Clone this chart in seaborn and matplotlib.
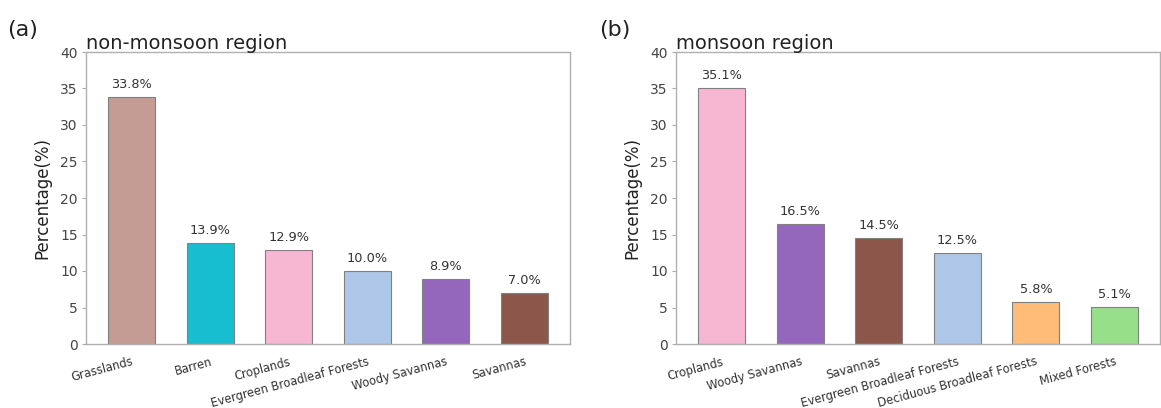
import matplotlib
matplotlib.use("Agg")
import matplotlib.pyplot as plt
import seaborn as sns
import pandas as pd

cats_a = ["Grasslands", "Barren", "Croplands", "Evergreen Broadleaf Forests", "Woody Savannas", "Savannas"]
vals_a = [33.8, 13.9, 12.9, 10.0, 8.9, 7.0]
cats_b = ["Croplands", "Woody Savannas", "Savannas", "Evergreen Broadleaf Forests", "Deciduous Broadleaf Forests", "Mixed Forests"]
vals_b = [35.1, 16.5, 14.5, 12.5, 5.8, 5.1]

colors = {
    "Grasslands": "#c49c94",
    "Barren": "#17becf",
    "Croplands": "#f7b6d2",
    "Evergreen Broadleaf Forests": "#aec7e8",
    "Woody Savannas": "#9467bd",
    "Savannas": "#8c564b",
    "Deciduous Broadleaf Forests": "#ffbb78",
    "Mixed Forests": "#98df8a",
}

sns.set_theme(style="white")
plt.rcParams["font.family"] = ["DejaVu Sans"]

W, H = 1161, 408
fig = plt.figure(figsize=(W / 100, H / 100), dpi=100)
ax_a = fig.add_axes([86 / W, 1 - 344 / H, (570 - 86) / W, (344 - 52) / H])
ax_b = fig.add_axes([676 / W, 1 - 344 / H, (1160 - 676) / W, (344 - 52) / H])

for ax, cats, vals, title, tag, tagx in [
    (ax_a, cats_a, vals_a, "non-monsoon region", "(a)", 7 / W),
    (ax_b, cats_b, vals_b, "monsoon region", "(b)", 599 / W),
]:
    df = pd.DataFrame({"cat": cats, "val": vals})
    sns.barplot(data=df, x="cat", y="val", hue="cat", palette=colors, legend=False,
                width=0.6, saturation=1, edgecolor="#808080", linewidth=0.8, ax=ax, order=cats)
    for p, v in zip(ax.patches, vals):
        ax.text(p.get_x() + p.get_width() / 2, v + 0.8, f"{v:.1f}%",
                ha="center", va="bottom", fontsize=9.3, color="#333333")
    ax.set_ylim(0, 40)
    ax.set_yticks(range(0, 41, 5))
    ax.set_xlim(-0.58, len(cats) - 1 + 0.58)
    ax.set_xlabel("")
    ax.set_ylabel("Percentage(%)", fontsize=12, color="#222222", labelpad=6)
    ax.set_title(title, loc="left", fontsize=14, pad=2, color="#222222")
    ax.tick_params(axis="y", labelsize=10, left=True, length=3, width=0.8,
                   color="#aaaaaa", labelcolor="#444444", pad=3)
    ax.tick_params(axis="x", labelsize=8.3, bottom=False, labelcolor="#333333", pad=2)
    plt.setp(ax.get_xticklabels(), rotation=15, ha="right", rotation_mode="anchor")
    for s in ax.spines.values():
        s.set_color("#b0b0b0")
        s.set_linewidth(1.0)
    fig.text(tagx, 1 - 30 / H, tag, fontsize=16, va="center", ha="left", color="#222222")

fig.savefig("out.png", dpi=100)
